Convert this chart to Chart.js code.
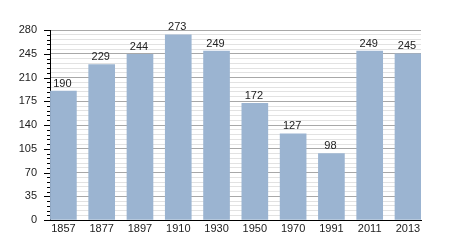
<!DOCTYPE html>
<html>
<head>
<meta charset="utf-8">
<script src="https://cdn.jsdelivr.net/npm/chart.js@4"></script>
<style>
  html, body { margin: 0; padding: 0; background: #fff; }
  canvas { display: block; }
</style>
</head>
<body>
<canvas id="populationChart" width="450" height="250"></canvas>
<script>
"use strict";

// Census years and population values
const years = ["1857", "1877", "1897", "1910", "1930", "1950", "1970", "1991", "2011", "2013"];
const population = [190, 229, 244, 273, 249, 172, 127, 98, 249, 245];

// Y axis: labelled every 35, light lines every 7
const yMax = 280;
const yMajorStep = 35;
const yMinorStep = 7;

const FONT = { family: "'Liberation Sans', Arial, sans-serif", size: 11 };

// Draw axis ticks on the left (long for major, short for minor)
const axisTicks = {
    id: 'axisTicks',
    afterDraw(chart) {
        const ctx = chart.ctx;
        const y = chart.scales.y;
        const left = chart.chartArea.left;
        ctx.save();
        ctx.strokeStyle = '#000';
        ctx.lineWidth = 1;
        y.ticks.forEach(t => {
            const py = Math.round(y.getPixelForValue(t.value)) + 0.5;
            const len = t.value % yMajorStep === 0 ? 6 : 3;
            ctx.beginPath();
            ctx.moveTo(left - len, py);
            ctx.lineTo(left, py);
            ctx.stroke();
        });
        ctx.restore();
    }
};

// Value labels above each bar
const barValues = {
    id: 'barValues',
    afterDatasetsDraw(chart) {
        const ctx = chart.ctx;
        const meta = chart.getDatasetMeta(0);
        ctx.save();
        ctx.fillStyle = '#222';
        ctx.font = FONT.size + 'px ' + FONT.family;
        ctx.textAlign = 'center';
        ctx.textBaseline = 'bottom';
        meta.data.forEach((bar, i) => {
            ctx.fillText(String(population[i]), bar.x - 1, bar.y - 2);
        });
        ctx.restore();
    }
};

const ctx = document.getElementById('populationChart').getContext('2d');
new Chart(ctx, {
    type: 'bar',
    data: {
        datasets: [{
            data: population.map((v, i) => ({ x: i, y: v })),
            backgroundColor: '#9bb4d1',
            borderWidth: 0,
            barThickness: 26
        }]
    },
    options: {
        responsive: false,
        animation: false,
        devicePixelRatio: 1,
        layout: { padding: { top: 30, right: 29, left: 0, bottom: 0 } },
        plugins: { legend: { display: false }, tooltip: { enabled: false } },
        scales: {
            x: {
                type: 'linear',
                offset: false,
                min: -0.35,
                max: 9.34,
                afterBuildTicks(scale) {
                    scale.ticks = years.map((_, i) => ({ value: i }));
                },
                afterFit(scale) { scale.height = 30; },
                grid: { display: false, drawTicks: false },
                border: { display: true, color: '#000', width: 1 },
                ticks: {
                    autoSkip: false,
                    maxRotation: 0,
                    padding: 2,
                    color: '#222',
                    font: FONT,
                    callback: (value) => years[value]
                }
            },
            y: {
                min: 0,
                max: yMax,
                afterFit(scale) { scale.width = 50; },
                border: { display: true, color: '#000', width: 1 },
                grid: {
                    drawTicks: false,
                    color: (c) => (c.tick && c.tick.value % yMajorStep === 0) ? '#a8a8a8' : '#e2e2e2',
                    lineWidth: 1
                },
                ticks: {
                    stepSize: yMinorStep,
                    maxTicksLimit: 100,
                    autoSkip: false,
                    padding: 13,
                    color: '#222',
                    font: FONT,
                    callback: (value) => value % yMajorStep === 0 ? String(value) : ''
                }
            }
        }
    },
    plugins: [axisTicks, barValues]
});
</script>
</body>
</html>
